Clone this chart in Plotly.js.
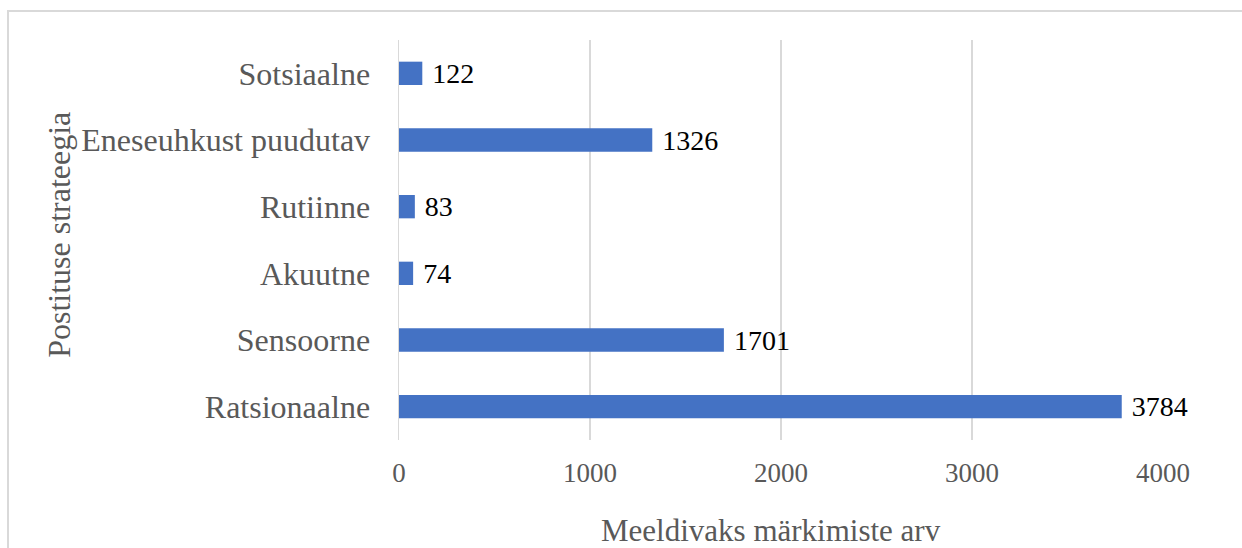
<!DOCTYPE html>
<html>
<head>
<meta charset="utf-8">
<script src="https://cdn.plot.ly/plotly-3.0.1.min.js"></script>
<style>
  html, body { margin: 0; padding: 0; background: #ffffff; overflow: hidden; }
  #frame { position: absolute; left: 7px; top: 10px; width: 1400px; height: 700px;
           border: 2px solid #d9d9d9; box-sizing: border-box; }
  #chart { position: absolute; left: 0; top: 0; width: 1242px; height: 548px; }
</style>
</head>
<body>
<div id="frame"></div>
<div id="chart"></div>
<script>
// Data (top to bottom as in the reference)
const categories = ["Sotsiaalne", "Eneseuhkust puudutav", "Rutiinne", "Akuutne", "Sensoorne", "Ratsionaalne"];
const likes = [122, 1326, 83, 74, 1701, 3784];
const xTicks = [0, 1000, 2000, 3000, 4000];
const xTitle = "Meeldivaks märkimiste arv";
const yTitle = "Postituse strateegia";

const serif = "Liberation Serif, Times New Roman, serif";

const trace = {
  type: "bar",
  orientation: "h",
  x: likes,
  y: categories,
  marker: { color: "#4472C4" },
  text: likes.map(String),
  texttemplate: " %{text}",
  textposition: "outside",
  constraintext: "none",
  cliponaxis: false,
  textfont: { family: serif, size: 28, color: "#000000" },
  hoverinfo: "x+y"
};

const layout = {
  width: 1242,
  height: 548,
  paper_bgcolor: "rgba(0,0,0,0)",
  plot_bgcolor: "rgba(0,0,0,0)",
  margin: { l: 398.5, r: 78.7, t: 40, b: 108, pad: 0 },
  bargap: 0.65,
  showlegend: false,
  font: { family: serif, color: "#595959" },
  xaxis: {
    range: [0, 4000],
    tickvals: xTicks,
    ticktext: xTicks.map(String),
    showgrid: true,
    gridcolor: "#d9d9d9",
    gridwidth: 1.5,
    zeroline: false,
    showline: false,
    ticks: "",
    ticklabelstandoff: 14,
    tickfont: { family: serif, size: 27, color: "#595959" },
    automargin: false,
    fixedrange: true
  },
  yaxis: {
    autorange: "reversed",
    type: "category",
    showgrid: false,
    zeroline: false,
    showline: true,
    linecolor: "#d9d9d9",
    linewidth: 1.5,
    ticks: "",
    ticklabelstandoff: 21,
    tickfont: { family: serif, size: 32, color: "#595959" },
    automargin: false,
    fixedrange: true
  },
  annotations: [{
    text: xTitle,
    xref: "paper", yref: "paper",
    x: 0.487, y: 0,
    xanchor: "center", yanchor: "middle",
    yshift: -90,
    showarrow: false,
    font: { family: serif, size: 31, color: "#595959" }
  }, {
    text: yTitle,
    xref: "paper", yref: "paper",
    x: -0.4452, y: 0.5125,
    xanchor: "center", yanchor: "middle",
    textangle: -90,
    showarrow: false,
    font: { family: serif, size: 32, color: "#595959" }
  }]
};

Plotly.newPlot("chart", [trace], layout, { displayModeBar: false, staticPlot: true });
</script>
</body>
</html>
